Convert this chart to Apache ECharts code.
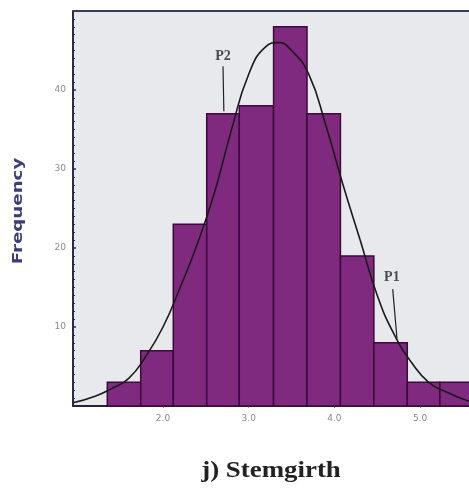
<!DOCTYPE html>
<html><head><meta charset="utf-8">
<script src="https://cdn.jsdelivr.net/npm/echarts@6/dist/echarts.min.js"></script>
<style>html,body{margin:0;padding:0;background:#fff}#c{width:469px;height:489px}</style>
</head><body><div id="c"></div>
<script>
// Histogram bins (Stemgirth)
var binStarts = [1.35,1.74,2.12,2.51,2.89,3.29,3.68,4.07,4.46,4.85,5.23];
var binEnds   = [1.74,2.12,2.51,2.89,3.29,3.68,4.07,4.46,4.85,5.23,5.62];
var frequencies = [3,7,23,37,38,48,37,19,8,3,3];
// Fitted normal curve
var curveX = [0.95,1.2,1.4,1.6,1.8,2.0,2.2,2.4,2.6,2.8,3.0,3.2,3.35,3.5,3.7,3.9,4.1,4.3,4.5,4.7,4.9,5.1,5.3,5.57];
var curveY = [0.4,1.2,2.2,3.5,6.3,10,15,20.5,27,35,42,45.5,46,45,42,35.5,28,21,14,9,5.5,3,1.8,0.6];
var xTickValues = [2,3,4,5];
// Annotations
var annoNames = ['P2','P1'];
var annoTextX = [2.70,4.67];
var annoTextY = [44.3,16.3];
var annoLineFrom = [[2.70,43.0],[4.68,14.8]];
var annoLineTo = [[2.71,37.3],[4.73,8.5]];

var chart = echarts.init(document.getElementById('c'));
var bars = binStarts.map(function(s,i){return [s,binEnds[i],frequencies[i]];});
var curve = curveX.map(function(x,i){return [x,curveY[i]];});
var annoLines = [];
annoLineFrom.forEach(function(p,i){ annoLines.push(p); annoLines.push(annoLineTo[i]); annoLines.push([null,null]); });
var annoText = annoNames.map(function(n,i){return {value:[annoTextX[i],annoTextY[i]],name:n};});

chart.setOption({
  animation:false,
  backgroundColor:'#ffffff',
  grid:{left:73,right:0,top:11,bottom:83,show:true,backgroundColor:'#e8e9ec',borderWidth:0},
  xAxis:{type:'value',min:0.95,max:5.57,
    axisLine:{show:true,onZero:false,lineStyle:{color:'#2a1f3f',width:2}},
    axisTick:{show:true,customValues:xTickValues,length:2,lineStyle:{color:'#999'}},
    axisLabel:{customValues:xTickValues,formatter:function(v){return v.toFixed(1);},color:'#8a8a8a',fontSize:9,fontFamily:'DejaVu Sans',margin:8},
    splitLine:{show:false}},
  yAxis:{type:'value',min:0,max:50,interval:10,
    axisLine:{show:true,lineStyle:{color:'#2a2a50',width:2}},
    axisTick:{show:true,inside:true,length:3,lineStyle:{color:'#2a2a50',width:1.5}},
    minorTick:{show:true,splitNumber:10,length:2,lineStyle:{color:'#2a2a50'}},
    axisLabel:{color:'#8a8a8a',fontSize:9,fontFamily:'DejaVu Sans',margin:7,
      formatter:function(v){return (v===0||v===50)?'':String(v);}},
    splitLine:{show:false}},
  graphic:[
    {type:'line',shape:{x1:73,y1:11,x2:469,y2:11},style:{stroke:'#3a3a5e',lineWidth:2},z:10},
    {type:'text',x:18,y:211,rotation:Math.PI/2,scaleX:1.3,
      style:{text:'Frequency',fill:'#3d3d7a',font:'bold 14px "DejaVu Sans"',align:'center',verticalAlign:'middle'}},
    {type:'text',x:271,y:471,scaleX:1.12,
      style:{text:'j) Stemgirth',fill:'#222',font:'bold 24px "Liberation Serif"',align:'center',verticalAlign:'middle'}}
  ],
  series:[
    {type:'custom',data:bars,encode:{x:[0,1],y:2},
      renderItem:function(params,api){
        var p0=api.coord([api.value(0),api.value(2)]);
        var p1=api.coord([api.value(1),0]);
        return {type:'rect',shape:{x:p0[0],y:p0[1],width:p1[0]-p0[0],height:p1[1]-p0[1]},
          style:{fill:'#7f2a7f',stroke:'#3a0a3a',lineWidth:1.5}};
      },z:2},
    {type:'line',data:curve,smooth:true,showSymbol:false,lineStyle:{color:'#1a1a1a',width:1.6},z:5},
    {type:'line',data:annoLines,showSymbol:false,connectNulls:false,lineStyle:{color:'#222',width:1.2},z:6},
    {type:'scatter',data:annoText,symbolSize:0,z:7,
      label:{show:true,position:'inside',formatter:function(p){return p.name;},color:'#222',fontWeight:'bold',fontSize:14,fontFamily:'Liberation Serif'}}
  ]
});
</script></body></html>
